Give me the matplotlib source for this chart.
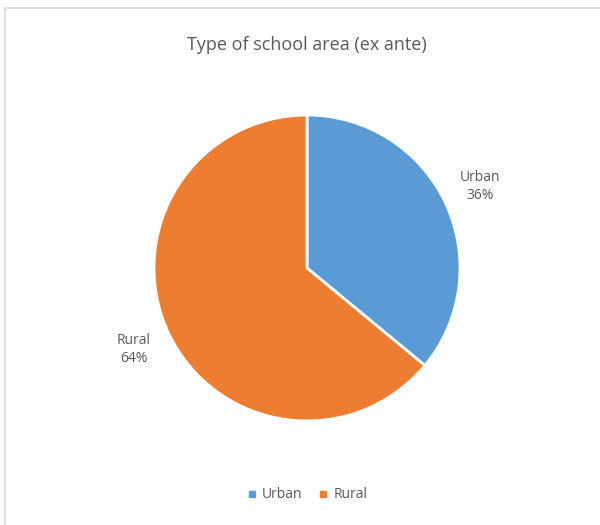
import matplotlib.pyplot as plt
from matplotlib.patches import Rectangle
from matplotlib.lines import Line2D

categories = ['Urban', 'Rural']
shares = [36, 64]
colors = ['#5B9BD5', '#ED7D31']
title = 'Type of school area (ex ante)'

plt.rcParams['font.family'] = ['Open Sans', 'DejaVu Sans']
text_color = '#595959'

fig = plt.figure(figsize=(6, 5.25), dpi=100)

# chart border (Excel-like), only top/left edges fall inside the image
fig.patches.append(Rectangle((5 / 600, -0.1), 1.2, 1 - 8 / 525 + 0.1,
                             transform=fig.transFigure, fill=False,
                             edgecolor='#D9D9D9', linewidth=1.2))

fig.text(307 / 600, 1 - 45 / 525, title, ha='center', va='center',
         fontsize=13, color=text_color)

ax = fig.add_axes([(307 - 153) / 600, (525 - 421) / 525, 306 / 600, 306 / 525])
labels = ['%s\n%d%%' % (c, v) for c, v in zip(categories, shares)]
wedges, texts = ax.pie(shares, colors=colors, startangle=90, counterclock=False,
                       labels=labels, labeldistance=1.25,
                       wedgeprops=dict(edgecolor='white', linewidth=2),
                       textprops=dict(fontsize=10, color=text_color))
for t in texts:
    t.set_ha('center')
    t.set_va('center')
    t.set_linespacing(1.3)
ax.set_xlim(-1, 1)
ax.set_ylim(-1, 1)
ax.set_aspect('auto')

handles = [Line2D([], [], marker='s', linestyle='none', markersize=5,
                  markerfacecolor=c, markeredgecolor=c) for c in colors]
fig.legend(handles, categories, loc='center', bbox_to_anchor=(307 / 600, 30 / 525),
           ncol=2, frameon=False, fontsize=10, handlelength=0.8,
           handletextpad=0.3, columnspacing=1.1, labelcolor=text_color)

fig.savefig('out.png', dpi=100)
